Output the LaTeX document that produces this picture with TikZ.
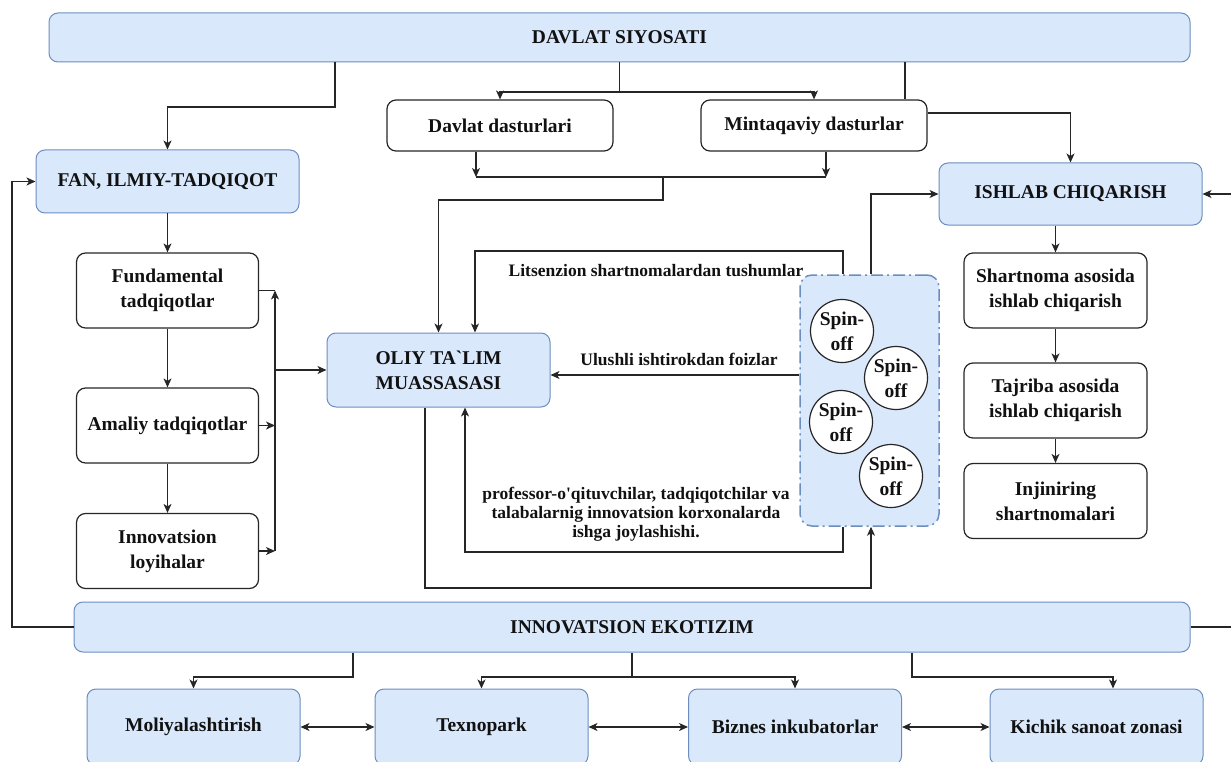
\documentclass[tikz,border=0pt]{standalone}
\usepackage{fontspec}
\setmainfont{Liberation Serif}
\usetikzlibrary{arrows.meta}
\definecolor{boxblue}{HTML}{DAE8FC}
\definecolor{edgeblue}{HTML}{6C8EBF}
\definecolor{txt}{HTML}{111111}

\begin{document}
\begin{tikzpicture}[x=1pt, y=-1pt,
	bluebox/.style={draw=edgeblue, fill=boxblue, line width=1pt, rounded corners=9pt, text=txt, font=\bfseries\fontsize{19.5}{25}\selectfont, align=center, inner sep=0pt},
	whitebox/.style={draw=black!85, fill=white, line width=1.2pt, rounded corners=9pt, text=txt, font=\bfseries\fontsize{19.5}{25}\selectfont, align=center, inner sep=0pt, minimum width=182pt, minimum height=75pt},
	spinoff/.style={circle, draw=black!85, fill=white, line width=1.2pt, minimum size=63pt, inner sep=0pt, text=txt, font=\bfseries\fontsize{19.5}{25}\selectfont, align=center},
	lbl/.style={text=txt, font=\bfseries\fontsize{17.5}{19}\selectfont, align=center, inner sep=0pt},
	ln/.style={draw=black!85, line width=1.2pt},
	arr/.style={draw=black!85, line width=1.2pt, -{Stealth[length=9pt, width=8pt, inset=2.5pt]}},
	dbl/.style={draw=black!85, line width=1.2pt, {Stealth[length=9pt, width=8pt, inset=2.5pt]}-{Stealth[length=9pt, width=8pt, inset=2.5pt]}}
]
\useasboundingbox (0,0) rectangle (1231,762);

\node[bluebox, minimum width=1141pt, minimum height=49pt] (siyosat) at (619.5,37.5) {DAVLAT SIYOSATI};
\node[whitebox, minimum width=226pt, minimum height=51pt] (davlatdastur) at (500,125.5) {Davlat dasturlari};
\node[whitebox, minimum width=226pt, minimum height=51pt] (mintaqa) at (814,125.5) {Mintaqaviy dasturlar};
\node[bluebox, minimum width=263pt, minimum height=63pt] (fan) at (167.5,181.5) {FAN, ILMIY-TADQIQOT};
\node[bluebox, minimum width=263pt, minimum height=62pt] (ishlab) at (1070.5,194) {ISHLAB CHIQARISH};

\node[whitebox] (fundamental) at (167.5,290.5) {Fundamental\\tadqiqotlar};
\node[whitebox] (amaliy) at (167.5,425.5) {Amaliy tadqiqotlar};
\node[whitebox] (loyiha) at (167.5,551) {Innovatsion\\loyihalar};
\node[bluebox, minimum width=223pt, minimum height=74pt] (oliy) at (438.5,370) {OLIY TA\textasciigrave LIM\\MUASSASASI};

\node[draw=edgeblue, fill=boxblue, line width=1.5pt, rounded corners=12pt, dash pattern=on 12pt off 4pt on 2pt off 4pt, minimum width=139pt, minimum height=251pt] (spinbox) at (869.5,400.5) {};
\foreach \cx/\cy [count=\i] in {842/331, 896/378, 841/422, 891/476}
	\node[spinoff] (spin\i) at (\cx,\cy) {Spin-\\off};

\node[whitebox, minimum width=183pt] (shartnoma) at (1055.5,290.5) {Shartnoma asosida\\ishlab chiqarish};
\node[whitebox, minimum width=183pt] (tajriba) at (1055.5,400.5) {Tajriba asosida\\ishlab chiqarish};
\node[whitebox, minimum width=183pt] (injiniring) at (1055.5,501) {Injiniring\\shartnomalari};

\node[bluebox, minimum width=1116pt, minimum height=50pt] (ekotizim) at (632,627) {INNOVATSION EKOTIZIM};
\node[bluebox, minimum width=213pt, minimum height=76pt] (moliya) at (193.5,727) {Moliyalashtirish};
\node[bluebox, minimum width=213pt, minimum height=76pt] (texnopark) at (481.5,727) {Texnopark};
\node[bluebox, minimum width=213pt, minimum height=76pt] (biznes) at (795,727) {Biznes inkubatorlar};
\node[bluebox, minimum width=213pt, minimum height=76pt] (kichik) at (1096.5,727) {Kichik sanoat zonasi};

\coordinate (dsplit) at (619.5,92);
\coordinate (pjoin) at (663,177);
\coordinate (bus) at (275,0);
\coordinate (esplit) at (632,677);

\draw[arr] (siyosat.south -| 335,0) -- (335,107) -| (fan);
\draw[ln] (siyosat.south -| dsplit) -- (dsplit);
\draw[arr] (dsplit) -| (davlatdastur);
\draw[arr] (dsplit) -| (mintaqa);
\draw[ln] (siyosat.south -| 905,0) -- (mintaqa.north -| 905,0);
\draw[arr] (mintaqa.east |- 0,113) -| (ishlab);

\draw[arr] (davlatdastur.south -| 476,0) -- (476,177);
\draw[arr] (mintaqa.south -| 826,0) -- (826,177);
\draw[ln] (476,177) -- (826,177);
\draw[arr] (pjoin) -- (663,200) -| (oliy);

\foreach \a/\b in {fan/fundamental, fundamental/amaliy, amaliy/loyiha, shartnoma/tajriba, tajriba/injiniring}
	\draw[arr] (\a) -- (\b);
\draw[arr] (ishlab.south -| shartnoma) -- (shartnoma);

\draw[ln] (fundamental.east) -- (fundamental.east -| bus);
\draw[arr] (loyiha.east -| bus) -- (fundamental.east -| bus);
\draw[arr] (amaliy.east) -- (amaliy.east -| bus);
\draw[arr] (loyiha.east) -- (loyiha.east -| bus);
\draw[arr] (oliy.west -| bus) -- (oliy.west);

\draw[arr] (spinbox.north -| 843,0) -- (843,251) -| (oliy.north -| 475,0);
\node[lbl] (litsenzion) at (656,271) {Litsenzion shartnomalardan tushumlar};
\draw[arr] (spinbox.west |- 0,375) -- (oliy.east |- 0,375);
\node[lbl] (ulushli) at (679,359) {Ulushli ishtirokdan foizlar};
\draw[arr] (spinbox.south -| 843,0) -- (843,552) -| (oliy.south -| 465,0);
\node[lbl] (professor) at (636,514) {professor-o\textquotesingle qituvchilar, tadqiqotchilar va\\talabalarnig innovatsion korxonalarda\\ishga joylashishi.};
\draw[arr] (oliy.south -| 425,0) -- (425,588) -| (spinbox.south -| 871,0);
\draw[arr] (spinbox.north -| 871,0) |- (ishlab.west);

\draw[arr] (ekotizim.west) -- (12,627) |- (fan.west);
\draw[arr] (ekotizim.east) -- (1245,627) |- (ishlab.east);

\draw[arr] (ekotizim.south -| 353,0) -- (353,677) -| (moliya);
\draw[ln] (ekotizim.south -| esplit) -- (esplit);
\draw[arr] (esplit) -| (texnopark);
\draw[arr] (esplit) -| (biznes);
\draw[arr] (ekotizim.south -| 912,0) -- (912,677) -| (kichik.north -| 1113,0);
\foreach \a/\b in {moliya/texnopark, texnopark/biznes, biznes/kichik}
	\draw[dbl] (\a) -- (\b);
\end{tikzpicture}
\end{document}
